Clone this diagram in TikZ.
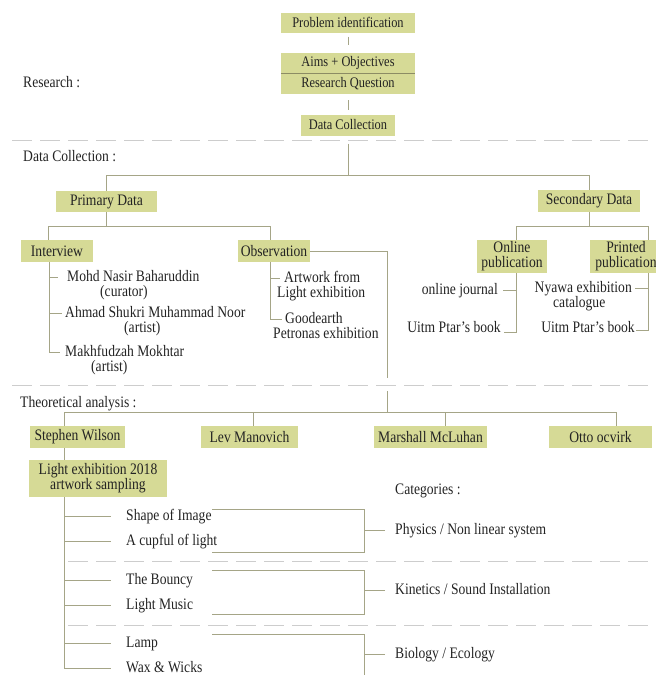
\documentclass[tikz,border=0pt]{standalone}
\usepackage{fontspec}
\setmainfont[FakeStretch=0.85]{Liberation Serif}
\definecolor{boxfill}{RGB}{214,218,150}
\definecolor{linkc}{RGB}{165,165,135}
\definecolor{divc}{RGB}{140,140,100}
\definecolor{sepc}{RGB}{205,205,205}
\definecolor{txtc}{RGB}{35,35,35}
\tikzset{
  tbox/.style={fill=boxfill, inner sep=0pt, text=txtc, align=center, font=\fontsize{16}{15}\selectfont},
  topbox/.style={tbox, font=\fontsize{14.6}{15}\selectfont},
  leaf/.style={inner sep=0pt, text=txtc, text height=11pt, text depth=3pt, font=\fontsize{16}{15}\selectfont},
  link/.style={draw=linkc, line width=0.9pt},
  sepline/.style={draw=sepc, line width=0.9pt, dash pattern=on 20pt off 8pt},
}
\begin{document}
\begin{tikzpicture}[x=1pt,y=-1pt]
        \useasboundingbox (0,0) rectangle (656,675);
        % Dashed separators between the stages
        \draw[sepline] (12,140) -- (656,140);
        \draw[sepline] (12,385) -- (656,385);
        \draw[sepline] (68,561) -- (656,561);
        \draw[sepline] (68,625) -- (656,625);
        % Stage labels on the left
        \node[leaf, anchor=west] (lres) at (23,83) {Research :};
        \node[leaf, anchor=west] (ldc) at (23,157) {Data Collection :};
        \node[leaf, anchor=west] (lta) at (20,403) {Theoretical analysis :};
        \node[leaf, anchor=west] (lcat) at (395,490) {Categories :};
        % Research stage
        \node[topbox, minimum width=134pt, minimum height=20pt] (prob) at (348,22.5) {Problem identification};
        \node[topbox, minimum width=134pt, minimum height=20pt] (aims) at (348,63) {Aims + Objectives};
        \node[topbox, minimum width=134pt, minimum height=21pt] (rq) at (348,83.5) {Research Question};
        \draw[draw=divc, line width=0.9pt] (aims.south west) -- (aims.south east);
        \node[topbox, minimum width=94pt, minimum height=21pt] (dcol) at (348,125) {Data Collection};
        \draw[link, shorten <=4pt, shorten >=8pt] (prob) -- (aims);
        \draw[link, shorten <=6pt, shorten >=4pt] (rq) -- (dcol);
        % Data collection stage: primary and secondary
        \node[tbox, minimum width=101pt, minimum height=21pt] (prim) at (106.5,201.5) {Primary Data};
        \node[tbox, minimum width=102pt, minimum height=22pt] (sec) at (589,201) {Secondary Data};
        \draw[link] ([yshift=-8pt]dcol.south) -- ++(0,32.5);
        \draw[link] (prim.north) -- ++(0,-15) -| (sec.north);
        % Primary data branches
        \node[tbox, minimum width=72pt, minimum height=22pt] (int) at (57,251) {Interview};
        \node[tbox, minimum width=72pt, minimum height=22pt] (obs) at (274,251) {Observation};
        \draw[link] (prim.south) -- ++(0,15);
        \draw[link] ([xshift=-9pt]int.north) -- ++(0,-13) -| ([xshift=-4pt]obs.north);
        % Interview persons
        \node[leaf, anchor=west] (mohd) at (67,277) {Mohd Nasir Baharuddin};
        \node[leaf, anchor=west] (cur) at (100,292) {(curator)};
        \node[leaf, anchor=west] (ahmad) at (65,313) {Ahmad Shukri Muhammad Noor};
        \node[leaf, anchor=west] (art1) at (124,328) {(artist)};
        \node[leaf, anchor=west] (mak) at (65,352) {Makhfudzah Mokhtar};
        \node[leaf, anchor=west] (art2) at (91,367) {(artist)};
        \foreach \n/\s in {mohd/9pt, ahmad/3pt, mak/5pt}
            \draw[link] ([xshift=-8pt]int.south) |- ([xshift=-\s]\n.west);
        % Observation items
        \node[leaf, anchor=west] (awk1) at (284,278) {Artwork from};
        \node[leaf, anchor=west] (awk2) at (277,293) {Light exhibition};
        \node[leaf, anchor=west] (gde1) at (285,319.5) {Goodearth};
        \node[leaf, anchor=west] (gde2) at (273,334.5) {Petronas exhibition};
        \draw[link] ([xshift=-4pt]obs.south) |- ([xshift=-4pt]awk1.west);
        \draw[link] ([xshift=-4pt]obs.south) |- ([xshift=-3pt]gde1.west);
        \draw[link] (obs.east) -| (387,378);
        % Secondary data branches
        \node[tbox, minimum width=70pt, minimum height=33pt] (onl) at (512,256.5) {Online\\publication};
        \node[tbox, minimum width=72pt, minimum height=33pt] (prt) at (626,256.5) {Printed\\publication};
        \draw[link] (sec.south) -- ++(0,15);
        \draw[link] ([xshift=4pt]onl.north) -- ++(0,-13) -| ([xshift=22pt]prt.north);
        \node[leaf, anchor=east] (ojn) at (498,290) {online journal};
        \node[leaf, anchor=east] (ubk1) at (501,328) {Uitm Ptar's book};
        \draw[link] ([xshift=4pt]onl.south) |- ([xshift=5pt]ojn.east);
        \draw[link] ([xshift=4pt]onl.south) |- ([xshift=3pt,yshift=-4pt]ubk1.east);
        \node[leaf, anchor=east] (nyw1) at (632,288) {Nyawa exhibition};
        \node[leaf, anchor=west] (nyw2) at (553,303) {catalogue};
        \node[leaf, anchor=east] (ubk2) at (635,328) {Uitm Ptar's book};
        \draw[link] ([xshift=22pt]prt.south) |- ([xshift=3pt]nyw1.east);
        \draw[link] ([xshift=22pt]prt.south) |- ([xshift=1pt,yshift=-2pt]ubk2.east);
        % Theoretical analysis stage
        \node[tbox, minimum width=95pt, minimum height=22pt] (sw) at (77.5,437) {Stephen Wilson};
        \node[tbox, minimum width=97pt, minimum height=22pt] (lm) at (249.5,437) {Lev Manovich};
        \node[tbox, minimum width=113pt, minimum height=22pt] (mm) at (430.5,437) {Marshall McLuhan};
        \node[tbox, minimum width=103pt, minimum height=22pt] (oo) at (600.5,437) {Otto ocvirk};
        \coordinate (tbar) at (387,412);
        \draw[link] (387,391) -- (tbar);
        \foreach \n/\s in {sw/-13.5pt, lm/3.5pt, mm/14.5pt, oo/15.5pt}
            \draw[link] ([xshift=\s]\n.north) |- (tbar);
        \node[tbox, minimum width=138pt, minimum height=37pt] (lx) at (98,478.5) {Light exhibition 2018\\artwork sampling};
        \draw[link] ([xshift=-13.5pt]sw.south) -- ([xshift=-34pt]lx.north);
        % Artwork samples
        \foreach \n/\t/\y in {shp/Shape of Image/516, cup/A cupful of light/541, bcy/The Bouncy/580, lmu/Light Music/605, lmp/Lamp/643, wax/Wax \& Wicks/668} {
            \node[leaf, anchor=west] (\n) at (126,\y) {\t};
            \draw[link] ([xshift=-34pt]lx.south) |- ([xshift=-15pt]\n.west);
        }
        % Categories with brackets
        \node[leaf, anchor=west] (phy) at (395,530) {Physics / Non linear system};
        \node[leaf, anchor=west] (kin) at (395,590) {Kinetics / Sound Installation};
        \node[leaf, anchor=west] (bio) at (395,654) {Biology / Ecology};
        \draw[link] (212,509) -| (364,552) -- (212,552);
        \draw[link] (212,570) -| (364,614) -- (212,614);
        \draw[link] (212,634) -| (364,690);
        \foreach \n in {phy,kin,bio}
            \draw[link] ([xshift=-10pt]\n.west) -- ++(-21,0);
\end{tikzpicture}
\end{document}
